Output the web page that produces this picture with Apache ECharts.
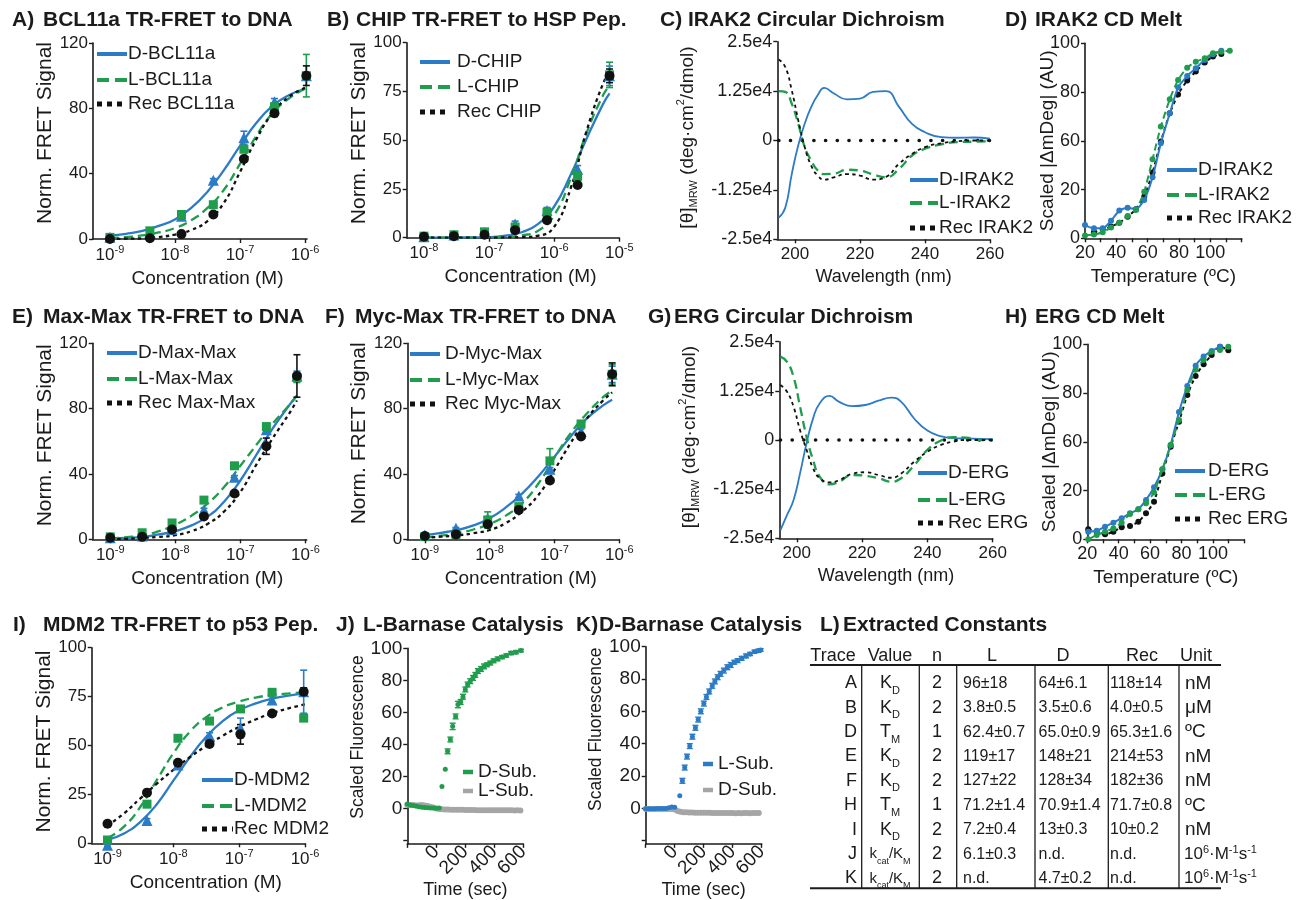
<!DOCTYPE html>
<html>
<head>
<meta charset="utf-8">
<title>Figure</title>
<script src="https://cdn.jsdelivr.net/npm/echarts@6.0.0/dist/echarts.min.js"></script>
<style>
html, body { margin: 0; padding: 0; background: #ffffff; }
#chart { width: 1300px; height: 900px; }
</style>
</head>
<body>
<div id="chart"></div>
<script>
// ===================== DATA =====================
// A) BCL11a TR-FRET to DNA  (x = log10 concentration in M)
const aConc = [-9, -8.385, -7.9, -7.41, -6.94, -6.47, -5.98];
const aD = [1, 4, 14, 36, 62, 84, 100];
const aL = [1, 5, 15, 21, 55, 81, 100];
const aRec = [0, 0.5, 3, 15, 49, 77, 100];
const aDErr = [0.5, 0.5, 1, 1, 4, 2, 1];
const aLErr = [0.5, 0.5, 1, 1, 2, 1, 13];
const aRecErr = [0.5, 0.5, 0.5, 1, 1, 2, 6];
const aFitConc = [-9, -8.75, -8.5, -8.25, -8, -7.75, -7.5, -7.25, -7, -6.75, -6.5, -6.25, -6];
const aFitD = [2, 3.2, 5, 8, 12, 19, 29, 42, 57, 71, 81.5, 88, 92];
const aFitL = [0.4, 1.2, 2.2, 4, 6.7, 11.5, 19, 30, 46, 63, 77, 86, 92];
const aFitRec = [0, 0.2, 0.4, 1.2, 2.7, 5.5, 11, 22, 41, 61, 77, 87, 92.5];
const aNames = ['D-BCL11a', 'L-BCL11a', 'Rec BCL11a'];

// B) CHIP TR-FRET to HSP Pep.
const bConc = [-8, -7.54, -7.07, -6.6, -6.11, -5.64, -5.15];
const bD = [0.5, 1.4, 2.7, 7, 14, 35, 83];
const bL = [0.8, 1.5, 3, 5.5, 13, 31.5, 83.5];
const bRec = [0.5, 0.8, 1.5, 3.8, 9, 27, 83];
const bDErr = [0.5, 0.5, 1, 1.5, 1.5, 2, 5];
const bLErr = [0.5, 0.5, 1, 1.5, 2, 2, 6.5];
const bRecErr = [0.3, 0.3, 0.5, 0.5, 1, 1, 3.5];
const bFitConc = [-8, -7.5, -7, -6.75, -6.5, -6.25, -6, -5.75, -5.5, -5.25, -5.15];
const bFitD = [0, 0.1, 0.3, 1, 2.8, 7, 16, 32, 51, 68.5, 74];
const bFitL = [0, 0, 0.1, 0.3, 1.2, 3.5, 11.6, 30, 54, 73, 78];
const bFitRec = [0, 0, 0, 0.1, 0.3, 1, 5.6, 25, 55, 79, 85];
const bNames = ['D-CHIP', 'L-CHIP', 'Rec CHIP'];

// C) IRAK2 circular dichroism (values in units of 1e4 deg·cm²/dmol)
const cWave = [195, 197, 199, 201, 203, 205, 207, 209, 212, 216, 220, 224, 228, 232, 236, 240, 245, 250, 255, 260];
const cD = [-1.95, -1.7, -0.85, -0.12, 0.43, 0.85, 1.15, 1.33, 1.19, 1.04, 1.06, 1.23, 1.25, 0.85, 0.42, 0.21, 0.085, 0.07, 0.076, 0.05];
const cL = [1.25, 1.23, 0.93, 0.42, -0.17, -0.51, -0.76, -0.85, -0.84, -0.74, -0.76, -0.86, -0.93, -0.72, -0.38, -0.21, -0.1, -0.04, -0.03, -0.02];
const cRec = [2.05, 1.86, 1.27, 0.51, -0.17, -0.64, -0.89, -0.99, -0.93, -0.85, -0.89, -0.99, -0.92, -0.59, -0.34, -0.17, -0.07, -0.02, 0, 0];
const cNames = ['D-IRAK2', 'L-IRAK2', 'Rec IRAK2'];
const cdBaseWave = [195, 260];
const cdBaseVal = [0, 0];

// D) IRAK2 CD melt
const dTemp = [20, 25.7, 31.3, 36.6, 41.9, 47.2, 52.5, 57.8, 63.1, 68.4, 74.1, 79.4, 85.2, 90.7, 96.4, 101.7, 107, 112.4];
const dD = [6.8, 5.1, 5.1, 9, 14.2, 15.7, 14.9, 19.7, 31.3, 48.7, 64.1, 77.4, 83.2, 87.2, 91.5, 94.4, 96.2, null];
const dL = [1.5, 1.9, 3.1, 5.5, 8, 11.5, 14.5, 23.9, 40.5, 57.3, 71.3, 81.2, 87.5, 90.6, 92.3, 94.9, 95.7, 96.2];
const dRec = [null, 3.1, 4.6, 6, 8, 11.1, 14.9, 21.4, 33.7, 49.6, 64.1, 73.8, 80.9, 85.5, 90.1, 93.2, 94.5, null];

// E) Max-Max TR-FRET to DNA
const eConc = [-9, -8.51, -8.05, -7.56, -7.09, -6.6, -6.13];
const eD = [1, 2, 6, 18, 38, 67, 100];
const eL = [1.5, 4, 10, 24, 45, 69, 99];
const eRec = [1, 1.5, 6, 14, 28, 57, 100];
const eDErr = [0.5, 0.5, 0.5, 1, 1, 2, 3];
const eLErr = [0.5, 0.5, 0.5, 1, 1, 2, 3];
const eRecErr = [0.5, 0.5, 0.5, 1, 1, 5, 13];
const eFitConc = [-9, -8.75, -8.5, -8.25, -8, -7.75, -7.5, -7.25, -7, -6.75, -6.5, -6.25, -6.13];
const eFitD = [0.5, 0.9, 1.5, 3, 5, 8.5, 14, 23, 36, 52, 68, 82, 88];
const eFitL = [0.5, 1.3, 2.5, 5, 9, 14.5, 22, 32, 45, 58, 71, 82, 88];
const eFitRec = [0, 0.3, 0.8, 1.5, 2.5, 5, 9.5, 17, 29, 46, 62, 77, 85];
const eNames = ['D-Max-Max', 'L-Max-Max', 'Rec Max-Max'];

// F) Myc-Max TR-FRET to DNA
const fConc = [-9, -8.52, -8.03, -7.55, -7.07, -6.59, -6.11];
const fD = [2.7, 6.7, 12.9, 26.5, 42.9, 66, 101];
const fL = [1.6, 3, 11.8, 20, 48, 70.6, 101];
const fRec = [2, 3, 9.2, 18, 36, 62.9, 101];
const fDErr = [0.5, 0.5, 1, 1, 1, 1.5, 5];
const fLErr = [0.5, 0.5, 5, 1, 7.5, 2, 6];
const fRecErr = [0.5, 0.5, 1, 1, 1, 1, 7];
const fFitConc = [-9, -8.75, -8.5, -8.25, -8, -7.75, -7.5, -7.25, -7, -6.75, -6.5, -6.25, -6.11];
const fFitD = [2.7, 4, 5.7, 8.5, 12.9, 19.5, 28, 38.5, 50.6, 63, 74, 82, 85.5];
const fFitL = [1.2, 2.2, 3.7, 6, 9.4, 14.5, 22, 34, 50, 65, 77, 87, 91];
const fFitRec = [1, 1.6, 2.4, 3.7, 5.7, 10, 17, 27, 42.5, 59, 74, 85, 90];
const fNames = ['D-Myc-Max', 'L-Myc-Max', 'Rec Myc-Max'];

// G) ERG circular dichroism (units of 1e4)
const gWave = [195, 197, 199, 201, 203, 205, 207, 210, 213, 217, 221, 225, 229, 232, 236, 240, 244, 248, 252, 256, 260];
const gD = [-2.29, -1.91, -1.53, -0.85, -0.08, 0.55, 0.93, 1.12, 0.97, 0.86, 0.89, 1.0, 1.08, 0.97, 0.54, 0.24, 0.1, 0.05, 0.04, 0.03, 0.02];
const gL = [2.12, 1.99, 1.61, 0.85, 0.08, -0.51, -0.93, -1.13, -1.06, -0.89, -0.91, -0.97, -1.06, -0.97, -0.64, -0.25, -0.02, 0.07, 0.06, 0, 0];
const gRec = [1.40, 1.23, 0.85, 0.25, -0.25, -0.72, -0.97, -1.08, -1.02, -0.86, -0.82, -0.89, -0.96, -0.85, -0.55, -0.30, -0.13, -0.04, 0, 0, 0];
const gNames = ['D-ERG', 'L-ERG', 'Rec ERG'];

// H) ERG CD melt
const hTemp = [20.6, 26, 31.3, 36.6, 41.9, 47.2, 52.5, 57.4, 62.5, 67.8, 73.1, 78.4, 83.7, 89, 94.1, 99.2, 104.5, 109.8];
const hD = [3.9, 4.4, 6.5, 8.5, 10.8, 13.3, 15.4, 20.2, 26.7, 35.9, 48.4, 65.3, 78.6, 89, 93.7, 96.6, 98.8, null];
const hL = [0, 2.2, 3.9, 5.6, 8.5, 13, 15.4, 18.5, 24, 35.9, 48.4, 61.2, 76.6, 86.9, 92, 96.2, 97.1, 98.8];
const hRec = [5.1, 3.9, 2.6, 3.9, 6.2, 6.8, 9, 13.3, 19.3, 33.8, 47.5, 60.3, 74, 83.8, 89.8, 94.5, 98.8, 97];

// I) MDM2 TR-FRET to p53 Pep.
const iConc = [-9, -8.40, -7.93, -7.45, -6.98, -6.5, -6.02];
const iD = [-1, 11.6, 40, 55, 59, 73.3, 77.5];
const iL = [1.7, 20, 53.7, 62.5, 68.7, 77.2, 64];
const iRec = [10, 25.9, 41.2, 50.8, 55.7, 66.4, 77.5];
const iDErr = [0.5, 1, 1, 1.5, 5, 1.5, 11];
const iLErr = [0.5, 1, 1, 1, 1, 1, 1];
const iRecErr = [0.5, 0.5, 1, 1, 5, 1, 2];
const iFitConc = [-9, -8.75, -8.5, -8.25, -8, -7.75, -7.5, -7.25, -7, -6.75, -6.5, -6.25, -6];
const iFitD = [1.7, 5, 11, 20, 32, 44, 54.5, 62.5, 68, 71.5, 74, 75.5, 76.5];
const iFitL = [2.6, 8.5, 18.7, 32.4, 46, 57, 64.5, 69.5, 72.5, 74.5, 75.8, 76.6, 77.2];
const iFitRec = [9, 15.3, 23, 30.5, 37.5, 44, 49.8, 55, 59.5, 63.3, 66.5, 69, 71];
const iNames = ['D-MDM2', 'L-MDM2', 'Rec MDM2'];

// J) L-Barnase catalysis
const jTime = [-200, -180, -160, -140, -120, -100, -80, -60, -40, -20, 0, 20, 39, 62, 78, 97, 113, 133, 149, 168, 184, 200, 216, 234, 253, 269, 287, 308, 329, 349, 372, 395, 423, 453, 483, 515, 549, 584];
const jD = [2.8, 2.2, 2, 1.6, 1.2, 0.8, 0.6, 0.5, 0.4, 0.3, 0.2, 0.3, 13.8, 24.6, 35.7, 43.1, 51.3, 57.5, 64.9, 66.5, 69.8, 74.3, 77.4, 79.5, 81.5, 83.4, 85.8, 87.1, 88.7, 89.7, 90.8, 92.2, 93.4, 94.5, 95.5, 97, 97.6, 98.6];
const jDErr = [0, 0, 0, 0, 0, 0, 0, 0, 0, 0, 0, 0, 0, 0, 1.5, 1.5, 2, 1.5, 2, 1.5, 1.5, 1.5, 1.5, 1.5, 1.5, 1.5, 1.5, 1.5, 1.5, 1.2, 1.2, 1.2, 1.2, 1, 1, 1, 1, 0.8];
const grayTime = [-200, -180, -160, -140, -120, -100, -80, -60, -40, -20, 0, 20, 40, 60, 80, 100, 120, 140, 160, 180, 200, 220, 240, 260, 280, 300, 320, 340, 360, 380, 400, 420, 440, 460, 480, 500, 520, 540, 560, 580];
const jGray = [2.4, 2.2, 2.3, 2, 2.1, 2.2, 2, 1.6, 1.1, 0.6, 0.1, -0.2, -0.4, -0.5, -0.6, -0.7, -0.7, -0.8, -0.8, -0.8, -0.9, -0.9, -0.9, -0.9, -1, -1, -1, -1, -1, -1, -1.1, -1, -1, -1.1, -1.1, -1.1, -1.1, -1.2, -1.1, -1.2];
const jNames = ['D-Sub.', 'L-Sub.'];

// K) D-Barnase catalysis
const kTime = [-200, -180, -160, -140, -120, -100, -80, -60, -40, -20, 0, 35, 53, 69, 85, 104, 122, 143, 162, 180, 201, 219, 238, 259, 277, 296, 316, 339, 363, 386, 411, 434, 462, 492, 520, 550, 577, 593];
const kD = [-0.3, -0.3, -0.3, -0.3, -0.2, -0.2, -0.2, -0.1, 0.4, 0.8, 0.6, 7.8, 17, 25.2, 32, 38.5, 44.3, 49.8, 54.9, 60, 64.8, 68.9, 72.3, 75.8, 78.5, 81.1, 83.2, 85.2, 87.3, 88.7, 90.4, 91.4, 92.8, 94.3, 95.5, 96.9, 97.5, 98];
const kDErr = [0, 0, 0, 0, 0, 0, 0, 0, 0, 0, 0, 0, 1.5, 1.5, 1.5, 1.5, 1.5, 1.5, 1.5, 1.5, 1.5, 1.5, 1.5, 1.5, 1.5, 1.5, 1.5, 1.5, 1.5, 1.5, 1.2, 1.2, 1.2, 1.2, 1, 1, 1, 0.8];
const kGray = [-0.4, -0.4, -0.4, -0.4, -0.4, -0.4, -0.4, -0.4, -0.4, -0.5, -0.8, -1.6, -2.1, -2.4, -2.5, -2.6, -2.6, -2.7, -2.7, -2.8, -2.8, -2.8, -2.8, -2.9, -2.9, -2.9, -2.9, -2.9, -2.9, -2.9, -2.9, -3, -2.9, -3, -2.9, -2.9, -3, -2.9, -2.9, -2.9];
const kNames = ['L-Sub.', 'D-Sub.'];

// Tick labels
const fretTicksA = [-9, -8, -7, -6];
const fretTicksB = [-8, -7, -6, -5];
const cdWaveTicks = [200, 220, 240, 260];
const meltXLabels = [20, 40, 60, 80, 100];
const meltYTickVals = [0, 25, 50, 75, 100];
const meltYTickText = ['0', '20', '60', '80', '100'];
const barnaseTimeLabels = [0, 200, 400, 600];
const barnaseYTicks = [-20, 0, 20, 40, 60, 80, 100];
const barnaseYLabels = [0, 20, 40, 60, 80, 100];

// L) Extracted constants table
const tblHeaders = ['Trace', 'Value', 'n', 'L', 'D', 'Rec', 'Unit'];
const tblTrace = ['A', 'B', 'D', 'E', 'F', 'H', 'I', 'J', 'K'];
const tblValue = ['K_D', 'K_D', 'T_M', 'K_D', 'K_D', 'T_M', 'K_D', 'kcat/KM', 'kcat/KM'];
const tblN = ['2', '2', '1', '2', '2', '1', '2', '2', '2'];
const tblL = ['96±18', '3.8±0.5', '62.4±0.7', '119±17', '127±22', '71.2±1.4', '7.2±0.4', '6.1±0.3', 'n.d.'];
const tblD = ['64±6.1', '3.5±0.6', '65.0±0.9', '148±21', '128±34', '70.9±1.4', '13±0.3', 'n.d.', '4.7±0.2'];
const tblRec = ['118±14', '4.0±0.5', '65.3±1.6', '214±53', '182±36', '71.7±0.8', '10±0.2', 'n.d.', 'n.d.'];
const tblUnit = ['nM', 'μM', 'ºC', 'nM', 'nM', 'ºC', 'nM', '10^6·M^-1s^-1', '10^6·M^-1s^-1'];

// ===================== STYLE / HELPERS =====================
const FONT = '"Liberation Sans", Arial, Helvetica, sans-serif';
const INK = '#1b1b1b';
const BLUE = '#2C7BC6', GREEN = '#1F9D4C', BLACK = '#111111', GRAY = '#A5A5A5';
const DASH_GREEN = [9, 5], DASH_BLACK = [3.5, 3.5];

function isObj(v) { return v && typeof v === 'object' && !Array.isArray(v) && typeof v !== 'function'; }
function merge(a, b) { const o = Object.assign({}, a); for (const k in b) { o[k] = (isObj(a[k]) && isObj(b[k])) ? merge(a[k], b[k]) : b[k]; } return o; }

const axisBase = {
  type: 'value',
  axisLine: { show: true, onZero: false, lineStyle: { color: INK, width: 1.6 } },
  axisTick: { show: true, length: 4, lineStyle: { color: INK, width: 1.4 } },
  axisLabel: { show: true, color: INK, fontSize: 17, fontFamily: FONT, margin: 5, hideOverlap: false },
  splitLine: { show: false },
  nameLocation: 'middle',
  nameTextStyle: { color: INK, fontSize: 19, fontFamily: FONT },
};
const grids = [], xAxes = [], yAxes = [], series = [], graphics = [];

function addGrid(rect, xa, ya) {
  const gi = grids.length;
  grids.push({ left: rect[0], top: rect[1], width: rect[2], height: rect[3] });
  xAxes.push(merge(merge(axisBase, { gridIndex: gi, position: 'bottom', axisLabel: { margin: 6 } }), xa));
  yAxes.push(merge(merge(axisBase, { gridIndex: gi, position: 'left' }), ya));
  return gi;
}
function pairs(xs, ys) { const out = []; xs.forEach((x, k) => { if (ys[k] !== null && ys[k] !== undefined) out.push([x, ys[k]]); }); return out; }
function curve(gi, xs, ys, color, dash, w, sm) {
  series.push({ type: 'line', xAxisIndex: gi, yAxisIndex: gi, data: pairs(xs, ys), smooth: sm === undefined ? 0.5 : sm,
    showSymbol: false, symbol: 'none', lineStyle: { color, width: w || 2.3, type: dash || 'solid', cap: 'butt' }, z: 2, silent: true, animation: false });
}
function errBars(gi, xs, ys, errs, color, cap, lw) {
  const data = [];
  xs.forEach((x, k) => { if (errs[k] > 0 && ys[k] !== null) data.push([x, ys[k] - errs[k], ys[k] + errs[k]]); });
  series.push({ type: 'custom', xAxisIndex: gi, yAxisIndex: gi, data, encode: { x: 0, y: [1, 2] }, z: 3, silent: true, animation: false, clip: false,
    renderItem: (params, api) => {
      const x = api.value(0); const lo = api.coord([x, api.value(1)]); const hi = api.coord([x, api.value(2)]);
      const st = { stroke: color, lineWidth: lw || 1.6, fill: null };
      return { type: 'group', children: [
        { type: 'line', shape: { x1: lo[0], y1: lo[1], x2: hi[0], y2: hi[1] }, style: st },
        { type: 'line', shape: { x1: hi[0] - cap, y1: hi[1], x2: hi[0] + cap, y2: hi[1] }, style: st },
        { type: 'line', shape: { x1: lo[0] - cap, y1: lo[1], x2: lo[0] + cap, y2: lo[1] }, style: st }] };
    } });
}
function marks(gi, xs, ys, color, symbol, size, z) {
  series.push({ type: 'scatter', xAxisIndex: gi, yAxisIndex: gi, data: pairs(xs, ys), symbol, symbolSize: size, clip: false,
    itemStyle: { color, opacity: 1 }, z: z || 4, silent: true, animation: false });
}
function connected(gi, xs, ys, color, dash, symSize, z) {
  series.push({ type: 'line', xAxisIndex: gi, yAxisIndex: gi, data: pairs(xs, ys), smooth: 0.2,
    showSymbol: true, symbol: 'circle', symbolSize: symSize, itemStyle: { color, opacity: 1 },
    lineStyle: { color, width: 2, type: dash || 'solid' }, z: z || 3, silent: true, animation: false });
}
function text(x, y, str, opt) {
  const o = opt || {};
  const al = o.align || 'left';
  graphics.push({ type: 'text', x, y, silent: true, z: 100,
    style: Object.assign({ text: str, fill: INK, fontSize: 19, fontFamily: FONT, verticalAlign: 'middle', textVerticalAlign: 'middle' }, o, { align: al, textAlign: al }) });
}
function hline(x1, x2, y, w, color, dash) {
  graphics.push({ type: 'line', silent: true, z: 100, shape: { x1, y1: y, x2, y2: y }, style: { stroke: color || INK, lineWidth: w, lineDash: dash || null } });
}
function vline(x, y1, y2, w) {
  graphics.push({ type: 'line', silent: true, z: 100, shape: { x1: x, y1, x2: x, y2 }, style: { stroke: INK, lineWidth: w } });
}
function legend(x1, x2, tx, ys, names, styles, fs) {
  names.forEach((nm, k) => {
    const s = styles[k];
    hline(x1, x2, ys[k], s.lw || 4, s.color, s.dash);
    text(tx, ys[k], nm, { fontSize: fs || 19 });
  });
}
const LEG3 = [{ color: BLUE }, { color: GREEN, dash: [12, 6] }, { color: BLACK, dash: [5, 5], lw: 5 }];
function title(lab, lx, rest, rx, y) {
  text(lx, y, lab, { fontSize: 21, fontWeight: 'bold' });
  text(rx, y, rest, { fontSize: 21, fontWeight: 'bold' });
}

// ---------- FRET panels ----------
const logRich = {
  b: { fontSize: 17, fontFamily: FONT, color: INK, lineHeight: 22 },
  s: { fontSize: 11, fontFamily: FONT, color: INK, lineHeight: 10, verticalAlign: 'top' }
};
function fretPanel(rect, xr, ticks, ymax, yint, shiftUp, gap, d) {
  const gi = addGrid(rect,
    { min: xr[0], max: xr[1], axisTick: { customValues: ticks },
      axisLabel: { customValues: ticks, formatter: v => '{b|10}{s|' + Math.round(v) + '}', rich: logRich, margin: 5 },
      name: 'Concentration (M)', nameGap: 30, nameTextStyle: { fontSize: 19, padding: [0, 0, 0, 15] } },
    { min: 0, max: ymax, interval: yint, name: 'Norm. FRET Signal', nameGap: gap,
      nameTextStyle: { fontSize: 21, padding: [0, 0, 0, 2 * shiftUp] } });
  curve(gi, d.fitX, d.fitD, BLUE, 'solid');
  curve(gi, d.fitX, d.fitL, GREEN, DASH_GREEN);
  curve(gi, d.fitX, d.fitRec, BLACK, DASH_BLACK);
  errBars(gi, d.x, d.D, d.DErr, BLUE, 3.5); marks(gi, d.x, d.D, BLUE, 'triangle', 11, 4);
  errBars(gi, d.x, d.L, d.LErr, GREEN, 3.5); marks(gi, d.x, d.L, GREEN, 'rect', 9, 5);
  errBars(gi, d.x, d.Rec, d.RecErr, BLACK, 3.5); marks(gi, d.x, d.Rec, BLACK, 'circle', 10, 6);
  return gi;
}

// ---------- CD panels ----------
const cdNameRich = {
  sub: { fontSize: 11, fontFamily: FONT, color: INK, lineHeight: 12, verticalAlign: 'bottom' },
  sup: { fontSize: 11, fontFamily: FONT, color: INK, lineHeight: 12, verticalAlign: 'top' }
};
function cdPanel(rect, xmin, wave, D, L, Rec) {
  const gi = addGrid(rect,
    { min: xmin, max: 260, axisTick: { customValues: cdWaveTicks }, axisLabel: { customValues: cdWaveTicks, margin: 7 },
      name: 'Wavelength (nm)', nameGap: 29, nameTextStyle: { fontSize: 18 } },
    { min: -2.5, max: 2.5, interval: 1.25, axisLabel: { fontSize: 18, formatter: v => (v === 0 ? '0' : v + 'e4') },
      name: '[θ]{sub|MRW} (deg·cm{sup|2}/dmol)', nameGap: 78,
      nameTextStyle: { fontSize: 19, lineHeight: 24, padding: [0, 0, 0, 6], rich: cdNameRich } });
  series.push({ type: 'line', xAxisIndex: gi, yAxisIndex: gi, data: pairs(cdBaseWave, cdBaseVal), showSymbol: false, symbol: 'none',
    lineStyle: { color: BLACK, width: 3.6, type: [0.1, 11.6], cap: 'round' }, z: 1, silent: true, animation: false });
  curve(gi, wave, D, BLUE, 'solid', 1.8, 0.5);
  curve(gi, wave, L, GREEN, DASH_GREEN, 2.3, 0.5);
  curve(gi, wave, Rec, BLACK, DASH_BLACK, 1.8, 0.5);
  return gi;
}

// ---------- melt panels ----------
function meltPanel(rect, temps, D, L, Rec) {
  const gi = addGrid(rect,
    { min: 20, max: 120, interval: 10, axisLabel: { customValues: meltXLabels, margin: 6, fontSize: 18 },
      name: 'Temperature (ºC)', nameGap: 29, nameTextStyle: { fontSize: 19 } },
    { min: 0, max: 100, interval: 25, axisLabel: { fontSize: 18, formatter: v => meltYTickText[meltYTickVals.indexOf(v)] },
      name: 'Scaled |ΔmDeg| (AU)', nameGap: 28, nameMoveOverlap: false, nameTextStyle: { fontSize: 19 } });
  connected(gi, temps, Rec, BLACK, DASH_BLACK, 6, 3);
  connected(gi, temps, D, BLUE, 'solid', 6, 4);
  connected(gi, temps, L, GREEN, [7, 4], 6, 5);
  return gi;
}

// ---------- barnase panels ----------
function barnasePanel(rect, t, v, err, color, gray, shiftUp, gap) {
  const gi = addGrid(rect,
    { min: -200, max: 600, interval: 200, axisLabel: { customValues: barnaseTimeLabels, rotate: 45, fontSize: 19, margin: 5 },
      name: 'Time (sec)', nameGap: 34, nameTextStyle: { fontSize: 18 } },
    { min: -22, max: 100, axisTick: { customValues: barnaseYTicks }, axisLabel: { customValues: barnaseYLabels, fontSize: 19 },
      name: 'Scaled Fluorescence', nameGap: gap, nameTextStyle: { fontSize: 17.5, padding: [0, 0, 0, 2 * shiftUp] } });
  marks(gi, grayTime, gray, GRAY, 'circle', 6, 3);
  errBars(gi, t, v, err, color, 3, 1.4);
  marks(gi, t, v, color, 'circle', 5, 5);
  return gi;
}

// ===================== BUILD =====================
// Row 1
fretPanel([93, 43, 214, 196], [-9.26, -5.97], fretTicksA, 120, 40, 8, 32,
  { x: aConc, D: aD, L: aL, Rec: aRec, DErr: aDErr, LErr: aLErr, RecErr: aRecErr, fitX: aFitConc, fitD: aFitD, fitL: aFitL, fitRec: aFitRec });
fretPanel([406.7, 42.7, 212.6, 195], [-8.265, -5], fretTicksB, 100, 25, 7, 31,
  { x: bConc, D: bD, L: bL, Rec: bRec, DErr: bDErr, LErr: bLErr, RecErr: bRecErr, fitX: bFitConc, fitD: bFitD, fitL: bFitL, fitRec: bFitRec });
cdPanel([777.3, 41.7, 212.7, 197.6], 194.55, cWave, cD, cL, cRec);
meltPanel([1085, 43.3, 156.7, 195], dTemp, dD, dL, dRec);
// Row 2
fretPanel([92.7, 343.3, 214, 196], [-9.27, -5.98], fretTicksA, 120, 40, 6, 32,
  { x: eConc, D: eD, L: eL, Rec: eRec, DErr: eDErr, LErr: eLErr, RecErr: eRecErr, fitX: eFitConc, fitD: eFitD, fitL: eFitL, fitRec: eFitRec });
fretPanel([407.3, 343.3, 212, 196], [-9.27, -6], fretTicksA, 120, 40, 8, 31,
  { x: fConc, D: fD, L: fL, Rec: fRec, DErr: fDErr, LErr: fLErr, RecErr: fRecErr, fitX: fFitConc, fitD: fFitD, fitL: fFitL, fitRec: fFitRec });
cdPanel([779.3, 341.7, 213.4, 196.6], 194.65, gWave, gD, gL, gRec);
meltPanel([1087.3, 344.3, 157, 195], hTemp, hD, hL, hRec);
// Row 3
fretPanel([91.7, 647.7, 213.3, 195.6], [-9.24, -6], fretTicksA, 100, 25, 4, 32,
  { x: iConc, D: iD, L: iL, Rec: iRec, DErr: iDErr, LErr: iLErr, RecErr: iRecErr, fitX: iFitConc, fitD: iFitD, fitL: iFitL, fitRec: iFitRec });
barnasePanel([407.3, 648.3, 116, 198.4], jTime, jD, jDErr, GREEN, jGray, 9, 33);
barnasePanel([645.7, 646.7, 116, 200], kTime, kD, kDErr, BLUE, kGray, 16, 37);

// Titles
title('A)', 12, 'BCL11a TR-FRET to DNA', 43, 20);
title('B)', 327, 'CHIP TR-FRET to HSP Pep.', 356, 20);
title('C)', 660, 'IRAK2 Circular Dichroism', 688, 20);
title('D)', 1005, 'IRAK2 CD Melt', 1035, 20);
title('E)', 12, 'Max-Max TR-FRET to DNA', 43, 317);
title('F)', 325, 'Myc-Max TR-FRET to DNA', 355, 317);
title('G)', 648, 'ERG Circular Dichroism', 674, 317);
title('H)', 1005, 'ERG CD Melt', 1035, 317);
title('I)', 13, 'MDM2 TR-FRET to p53 Pep.', 43, 625);
title('J)', 336, 'L-Barnase Catalysis', 363, 625);
title('K)', 576, 'D-Barnase Catalysis', 599, 625);
title('L)', 820, 'Extracted Constants', 843, 625);

// Legends
legend(97, 127, 128, [54, 80, 104], aNames, LEG3);
legend(420, 450, 457, [62, 87, 112], bNames, LEG3);
legend(910, 938, 939, [180, 203, 228], cNames, LEG3);
legend(1167, 1197, 1198, [170, 195, 218], cNames, LEG3);
legend(107, 137, 138, [353, 379, 403], eNames, LEG3);
legend(410, 440, 445, [354, 380, 404], fNames, LEG3);
legend(918, 947, 948, [473, 500, 523], gNames, LEG3);
legend(1175, 1205, 1208, [471, 495, 519], gNames, LEG3);
legend(202, 233, 234, [780, 806, 829], iNames, LEG3);
legend(463, 473, 478, [772, 791], jNames, [{ color: GREEN, lw: 4.5 }, { color: GRAY, lw: 4.5 }]);
legend(703, 713, 718, [764, 790], kNames, [{ color: BLUE, lw: 4.5 }, { color: GRAY, lw: 4.5 }]);

// Table
const hdrX = [833, 890, 937, 992, 1063, 1142, 1196];
tblHeaders.forEach((h, k) => text(hdrX[k], 656.5, h, { fontSize: 18, align: 'center' }));
hline(810, 1221, 665, 2);
hline(810, 1221, 888.3, 2);
[861.7, 919.3, 956.7, 1035, 1108.3, 1179].forEach(x => vline(x, 665, 888.3, 1.3));
const valRich = {
  m: { fontSize: 18, fontFamily: FONT, fill: INK, lineHeight: 26 },
  s: { fontSize: 11, fontFamily: FONT, fill: INK, lineHeight: 12, verticalAlign: 'bottom' },
  km: { fontSize: 15, fontFamily: FONT, fill: INK, lineHeight: 24 },
  ks: { fontSize: 9, fontFamily: FONT, fill: INK, lineHeight: 11, verticalAlign: 'bottom' },
  sup: { fontSize: 11, fontFamily: FONT, fill: INK, lineHeight: 11, verticalAlign: 'top' }
};
function valueRichText(v) {
  if (v.indexOf('/') >= 0) return '{km|k}{ks|cat}{km|/K}{ks|M}';
  const p = v.split('_');
  return '{m|' + p[0] + '}{s|' + p[1] + '}';
}
tblTrace.forEach((tr, k) => {
  const y = 683.3 + k * 24.4;
  text(857, y, tr, { fontSize: 18, align: 'right' });
  text(890, y, valueRichText(tblValue[k]), { align: 'center', rich: valRich });
  text(937, y, tblN[k], { fontSize: 18, align: 'center' });
  text(963, y, tblL[k], { fontSize: 16 });
  text(1038.5, y, tblD[k], { fontSize: 16 });
  text(1110, y, tblRec[k], { fontSize: 16 });
  const u = tblUnit[k];
  if (u.indexOf('^') >= 0) {
    text(1184, y, u.replace(/\^(-?\d+)/g, '{sup|$1}'), { fontSize: 17, lineHeight: 20, rich: valRich });
  } else {
    text(1185, y, u, { fontSize: 19 });
  }
});

// ===================== RENDER =====================
const chart = echarts.init(document.getElementById('chart'), null, { renderer: 'canvas' });
chart.setOption({
  animation: false,
  backgroundColor: '#ffffff',
  textStyle: { fontFamily: FONT },
  grid: grids,
  xAxis: xAxes,
  yAxis: yAxes,
  series: series,
  graphic: { elements: graphics }
});
</script>
</body>
</html>
